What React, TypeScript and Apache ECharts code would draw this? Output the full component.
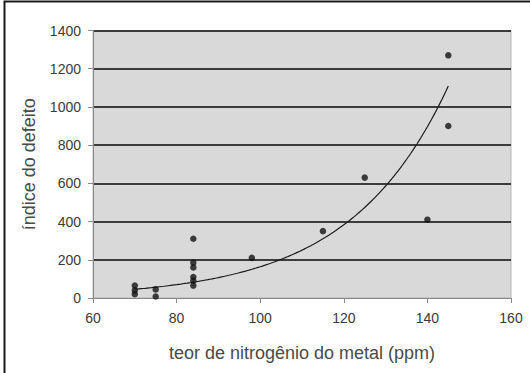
import React, { useEffect, useRef } from "react";
import * as echarts from "echarts";

// Data
const nitrogenPpm = [70, 70, 70, 75, 75, 84, 84, 84, 84, 84, 84, 98, 115, 125, 140, 145, 145];
const defectIndex = [65, 40, 20, 45, 8, 310, 185, 160, 110, 90, 65, 210, 350, 630, 410, 1270, 900];

const xAxisTitle = "teor de nitrogênio do metal (ppm)";
const yAxisTitle = "índice do defeito";
const xTicks = { min: 60, max: 160, interval: 20 };
const yTicks = { min: 0, max: 1400, interval: 200 };

// Exponential trendline (least squares on ln y, as a spreadsheet does)
function expTrend(xs: number[], ys: number[]) {
  const n = xs.length;
  const ly = ys.map((v) => Math.log(v));
  const mx = xs.reduce((a, b) => a + b, 0) / n;
  const my = ly.reduce((a, b) => a + b, 0) / n;
  let sxx = 0;
  let sxy = 0;
  for (let i = 0; i < n; i++) {
    sxx += (xs[i] - mx) * (xs[i] - mx);
    sxy += (xs[i] - mx) * (ly[i] - my);
  }
  const b = sxy / sxx;
  const a = my - b * mx;
  const lo = Math.min(...xs);
  const hi = Math.max(...xs);
  const pts: number[][] = [];
  const steps = 150;
  for (let k = 0; k <= steps; k++) {
    const x = lo + ((hi - lo) * k) / steps;
    pts.push([x, Math.exp(a + b * x)]);
  }
  return pts;
}

export default function App() {
  const ref = useRef<HTMLDivElement>(null);
  useEffect(() => {
    if (!ref.current) return;
    const chart = echarts.init(ref.current, undefined, { renderer: "svg" });
    const font = "'Liberation Sans', Arial, sans-serif";
    chart.setOption({
      animation: false,
      backgroundColor: "#ffffff",
      textStyle: { fontFamily: font },
      grid: {
        left: 93,
        right: 19,
        top: 30.5,
        bottom: 75,
        show: true,
        backgroundColor: "#d9d9d9",
        borderColor: "#b5b5b5",
        borderWidth: 1,
      },
      graphic: [
        {
          type: "rect",
          shape: { x: 4.5, y: 1.5, width: 600, height: 600 },
          style: { fill: "none", stroke: "#1a1a1a", lineWidth: 2 },
          silent: true,
          z: 10,
        },
      ],
      xAxis: {
        type: "value",
        min: xTicks.min,
        max: xTicks.max,
        interval: xTicks.interval,
        name: xAxisTitle,
        nameLocation: "middle",
        nameGap: 46,
        nameTextStyle: { fontSize: 18, color: "#4a4a4a", fontFamily: font },
        axisLine: { show: true, lineStyle: { color: "#8a8a8a", width: 1 } },
        axisTick: { show: true, length: 5, lineStyle: { color: "#8a8a8a" } },
        axisLabel: {
          fontSize: 14,
          color: "#3a3a3a",
          margin: 13,
          fontFamily: font,
          formatter: (v: number) => String(v),
        },
        splitLine: { show: false },
      },
      yAxis: {
        type: "value",
        min: yTicks.min,
        max: yTicks.max,
        interval: yTicks.interval,
        name: yAxisTitle,
        nameLocation: "middle",
        nameGap: 55,
        nameTextStyle: { fontSize: 18, color: "#4a4a4a", fontFamily: font },
        axisLine: { show: true, lineStyle: { color: "#8a8a8a", width: 1 } },
        axisTick: { show: true, length: 5, lineStyle: { color: "#8a8a8a" } },
        axisLabel: {
          fontSize: 14,
          color: "#3a3a3a",
          margin: 12,
          fontFamily: font,
          formatter: (v: number) => String(v),
        },
        splitLine: {
          show: true,
          showMinLine: false,
          lineStyle: { color: "#3c3c3c", width: 2 },
        },
      },
      series: [
        {
          type: "line",
          data: expTrend(nitrogenPpm, defectIndex),
          showSymbol: false,
          symbol: "none",
          lineStyle: { color: "#1a1a1a", width: 1.2 },
          silent: true,
          z: 2,
        },
        {
          type: "scatter",
          data: nitrogenPpm.map((x, i) => [x, defectIndex[i]]),
          symbol: "circle",
          symbolSize: 6.5,
          itemStyle: { color: "#111" },
          z: 3,
        },
      ],
    });
    return () => chart.dispose();
  }, []);
  return (
    <div
      ref={ref}
      style={{ position: "absolute", left: 0, top: 0, width: 530, height: 373 }}
    />
  );
}
